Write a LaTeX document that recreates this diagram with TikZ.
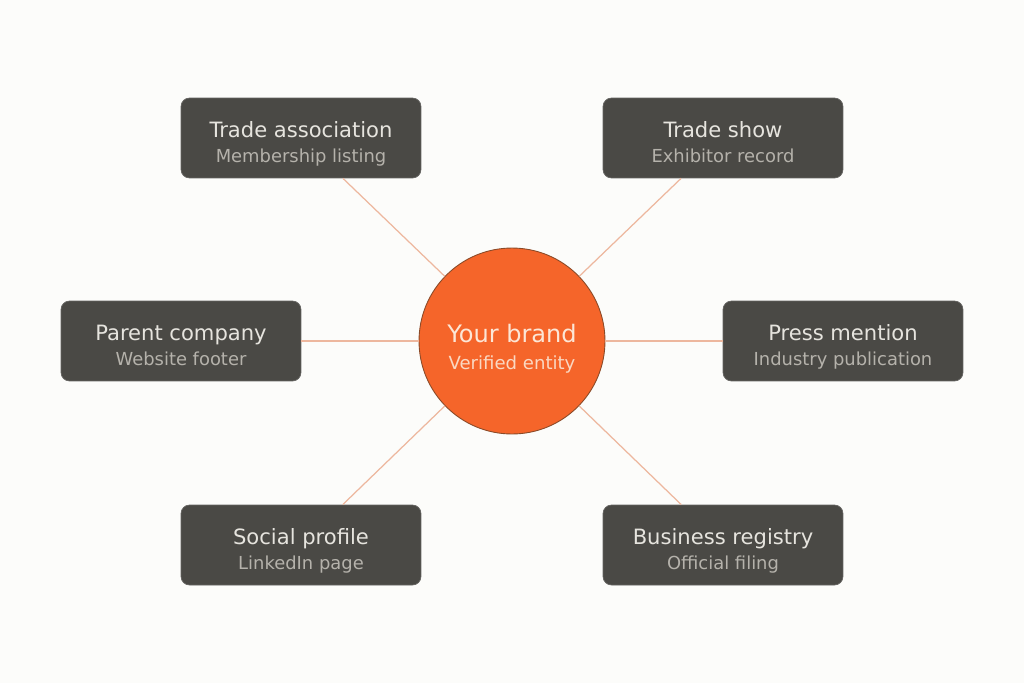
\documentclass[tikz,border=0pt]{standalone}
\usepackage{fontspec}
\setmainfont{DejaVu Sans}
\usepackage{tikz}
\usetikzlibrary{positioning}

\definecolor{bgcol}{HTML}{FCFCFA}
\definecolor{boxcol}{HTML}{4A4945}
\definecolor{titlecol}{HTML}{E6E4DE}
\definecolor{subcol}{HTML}{B5B2AB}
\definecolor{brandcol}{HTML}{F5652A}
\definecolor{brandline}{HTML}{8A4A28}
\definecolor{linkcol}{HTML}{EDB79E}

\newcommand{\cardtext}[2]{{\fontsize{12}{14}\selectfont\color{titlecol}\rule{0pt}{17.7pt}\strut#1}\\[0.1pt]{\fontsize{10.2}{13}\selectfont\color{subcol}\strut#2}}

\begin{document}
\begin{tikzpicture}[x=0.02cm,y=-0.02cm,
  card/.style={fill=boxcol, draw=boxcol!85!white, line width=0.4pt, rounded corners=0.17cm,
    minimum width=4.8cm, minimum height=1.6cm, align=center, inner sep=0pt},
  brand/.style={circle, fill=brandcol, draw=brandline, line width=0.5pt,
    minimum size=3.72cm, align=center, inner sep=0pt},
  link/.style={draw=linkcol, line width=0.7pt}]
	\fill[bgcol] (0,0) rectangle (1024,683);
	% centre
	\node[brand] (brand) at (512,341) {{\fontsize{13.7}{16}\selectfont\color[HTML]{FCE6D6}\rule{0pt}{20.8pt}\strut Your brand}\\[0.1pt]{\fontsize{10.3}{13}\selectfont\color[HTML]{FAD8C2}\strut Verified entity}};
	% cards
	\node[card] (assoc) at (301,138) {\cardtext{Trade association}{Membership listing}};
	\node[card] (show) at (723,138) {\cardtext{Trade show}{Exhibitor record}};
	\node[card] (parent) at (181,341) {\cardtext{Parent company}{Website footer}};
	\node[card] (press) at (843,341) {\cardtext{Press mention}{Industry publication}};
	\node[card] (social) at (301,545) {\cardtext{Social profile}{LinkedIn page}};
	\node[card] (registry) at (723,545) {\cardtext{Business registry}{Official filing}};
	% links
	\foreach \n in {assoc,show,parent,press,social,registry} {
		\draw[link] (brand) -- (\n);
	}
\end{tikzpicture}
\end{document}
